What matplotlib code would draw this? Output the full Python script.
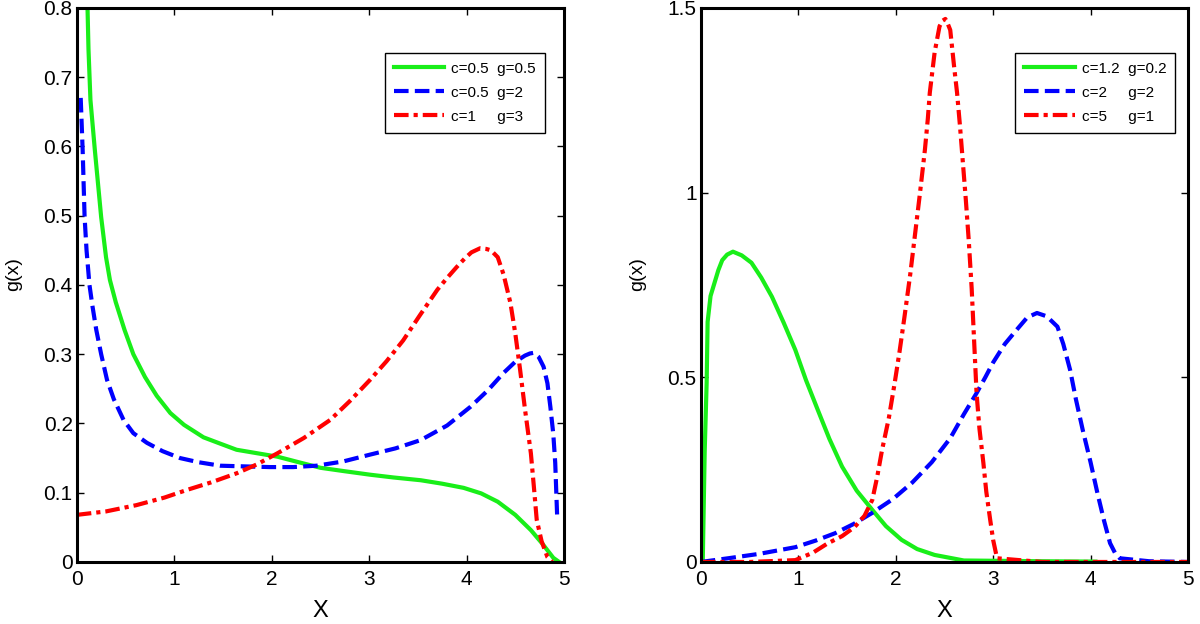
import matplotlib
matplotlib.use("Agg")
import matplotlib.pyplot as plt
from matplotlib.ticker import FormatStrFormatter

plt.rcParams['font.family'] = ['Liberation Sans', 'DejaVu Sans']

# ---- left panel data ----
left_green_x = [0.11, 0.12, 0.14, 0.185, 0.25, 0.30, 0.34, 0.40, 0.49, 0.58, 0.70, 0.82, 0.96,
                1.10, 1.30, 1.45, 1.64, 1.85, 2.06, 2.25, 2.50, 2.75, 3.01, 3.25, 3.53, 3.75,
                3.97, 4.15, 4.32, 4.50, 4.66, 4.78, 4.89, 4.95]
left_green_y = [0.80, 0.74, 0.667, 0.595, 0.498, 0.44, 0.407, 0.375, 0.335, 0.30, 0.267, 0.24, 0.215,
                0.198, 0.18, 0.172, 0.162, 0.157, 0.152, 0.145, 0.136, 0.131, 0.126, 0.122, 0.118, 0.113,
                0.107, 0.099, 0.087, 0.068, 0.046, 0.026, 0.006, 0.0]

left_blue_x = [0.04, 0.06, 0.08, 0.10, 0.13, 0.16, 0.20, 0.25, 0.31, 0.38, 0.48, 0.58, 0.72, 0.88,
               1.06, 1.25, 1.47, 1.72, 1.98, 2.22, 2.46, 2.73, 3.01, 3.27, 3.53, 3.80, 4.04, 4.22,
               4.38, 4.50, 4.60, 4.65, 4.69, 4.74, 4.79, 4.83, 4.86, 4.89, 4.91, 4.93]
left_blue_y = [0.67, 0.595, 0.498, 0.45, 0.40, 0.37, 0.335, 0.30, 0.263, 0.235, 0.205, 0.186, 0.172, 0.16,
               0.150, 0.144, 0.139, 0.138, 0.137, 0.137, 0.139, 0.145, 0.155, 0.164, 0.176, 0.197, 0.224, 0.248,
               0.273, 0.289, 0.298, 0.301, 0.302, 0.296, 0.282, 0.258, 0.224, 0.185, 0.143, 0.065]

left_red_x = [0.0, 0.3, 0.61, 0.9, 1.13, 1.38, 1.64, 1.85, 2.06, 2.33, 2.60, 2.80, 3.01, 3.18,
              3.35, 3.52, 3.70, 3.80, 3.90, 3.98, 4.05, 4.14, 4.20, 4.25, 4.32, 4.38, 4.45, 4.50,
              4.55, 4.60, 4.66, 4.69, 4.72, 4.77, 4.83, 4.88]
left_red_y = [0.068, 0.073, 0.082, 0.093, 0.104, 0.115, 0.128, 0.141, 0.157, 0.179, 0.205, 0.232, 0.263, 0.29,
              0.32, 0.356, 0.393, 0.41, 0.426, 0.438, 0.447, 0.453, 0.452, 0.45, 0.44, 0.415, 0.374, 0.33,
              0.277, 0.22, 0.157, 0.11, 0.061, 0.03, 0.007, 0.0]

left_labels = ['c=0.5  g=0.5', 'c=0.5  g=2', 'c=1     g=3']

# ---- right panel data ----
right_green_x = [0.02, 0.04, 0.06, 0.07, 0.10, 0.14, 0.18, 0.22, 0.27, 0.33, 0.42, 0.52, 0.62,
                 0.73, 0.85, 0.97, 1.08, 1.20, 1.32, 1.45, 1.60, 1.76, 1.90, 2.06, 2.22, 2.40,
                 2.70, 3.50, 4.05]
right_green_y = [0.0, 0.30, 0.485, 0.65, 0.72, 0.755, 0.79, 0.817, 0.832, 0.84, 0.83, 0.81, 0.77,
                 0.718, 0.648, 0.574, 0.492, 0.412, 0.333, 0.258, 0.193, 0.141, 0.097, 0.06, 0.035, 0.019,
                 0.004, 0.002, 0.001]

right_blue_x = [0.0, 0.28, 0.6, 0.97, 1.18, 1.38, 1.57, 1.76, 1.97, 2.17, 2.37, 2.56, 2.70,
                2.83, 2.92, 3.00, 3.12, 3.24, 3.35, 3.45, 3.55, 3.66, 3.72, 3.79, 3.85, 3.92,
                4.00, 4.07, 4.14, 4.20, 4.25, 4.30, 4.60, 5.0]
right_blue_y = [0.0, 0.01, 0.022, 0.04, 0.058, 0.078, 0.103, 0.133, 0.17, 0.215, 0.27, 0.335, 0.40,
                0.457, 0.50, 0.54, 0.59, 0.628, 0.662, 0.674, 0.665, 0.637, 0.59, 0.52, 0.44, 0.357,
                0.27, 0.187, 0.11, 0.051, 0.025, 0.01, 0.002, 0.0]

right_red_x = [0.0, 0.5, 0.97, 1.15, 1.30, 1.45, 1.58, 1.68, 1.76, 1.81, 1.86, 1.93, 1.99,
               2.04, 2.09, 2.15, 2.20, 2.25, 2.30, 2.33, 2.35, 2.40, 2.45, 2.48, 2.51, 2.53,
               2.56, 2.60, 2.63, 2.66, 2.69, 2.72, 2.75, 2.78, 2.83, 2.86, 2.90, 2.93, 2.97,
               3.00, 3.04, 3.5, 4.0, 5.0]
right_red_y = [0.0, 0.0, 0.005, 0.025, 0.05, 0.07, 0.095, 0.125, 0.168, 0.23, 0.303, 0.39, 0.485,
               0.57, 0.663, 0.78, 0.89, 1.0, 1.116, 1.2, 1.27, 1.38, 1.45, 1.465, 1.47, 1.46,
               1.44, 1.34, 1.27, 1.18, 1.08, 0.98, 0.87, 0.74, 0.457, 0.36, 0.268, 0.19, 0.114,
               0.06, 0.01, 0.0, 0.0, 0.0]

right_labels = ['c=1.2  g=0.2', 'c=2     g=2', 'c=5     g=1']

GREEN = '#19ee19'
BLUE = '#0000ff'
RED = '#ff0000'
LW = 3.0


def style_axes(ax, ymax, yticks, leg_anchor):
    ax.set_xlim(0, 5)
    ax.set_ylim(0, ymax)
    ax.set_xticks([0, 1, 2, 3, 4, 5])
    ax.set_yticks(yticks)
    ax.yaxis.set_major_formatter(FormatStrFormatter('%g'))
    ax.tick_params(direction='in', length=5, width=1, top=True, right=True,
                   labelsize=15, pad=3)
    ax.tick_params(axis='x', pad=6)
    for sp in ax.spines.values():
        sp.set_linewidth(2.2)
    ax.set_xlabel('X', fontsize=17, labelpad=8)
    ax.set_ylabel('g(x)', fontsize=14)
    ax.yaxis.set_label_coords(-0.112, 0.52)
    leg = ax.legend(loc='upper right', bbox_to_anchor=leg_anchor, fontsize=11,
                    handlelength=3.3, handletextpad=0.45, labelspacing=0.65,
                    borderpad=0.6, fancybox=False, framealpha=1, edgecolor='black')
    leg.get_frame().set_linewidth(1.0)


fig = plt.figure(figsize=(12, 6.24), dpi=100)

ax1 = fig.add_axes([0.064, 0.0994, 0.406, 0.888])
ax1.plot(left_green_x, left_green_y, color=GREEN, lw=LW, label=left_labels[0])
ax1.plot(left_blue_x, left_blue_y, color=BLUE, lw=LW, dashes=(3.5, 1.5), label=left_labels[1])
ax1.plot(left_red_x, left_red_y, color=RED, lw=LW, dashes=(3.5, 1.2, 1.0, 1.2), label=left_labels[2])
style_axes(ax1, 0.8, [0, 0.1, 0.2, 0.3, 0.4, 0.5, 0.6, 0.7, 0.8], (0.977, 0.933))

ax2 = fig.add_axes([0.584, 0.0994, 0.406, 0.888])
ax2.plot(right_green_x, right_green_y, color=GREEN, lw=LW, label=right_labels[0])
ax2.plot(right_blue_x, right_blue_y, color=BLUE, lw=LW, dashes=(3.5, 1.5), label=right_labels[1])
ax2.plot(right_red_x, right_red_y, color=RED, lw=LW, dashes=(3.5, 1.2, 1.0, 1.2), label=right_labels[2])
style_axes(ax2, 1.5, [0, 0.5, 1, 1.5], (0.99, 0.933))

fig.savefig('out.png', dpi=100)
